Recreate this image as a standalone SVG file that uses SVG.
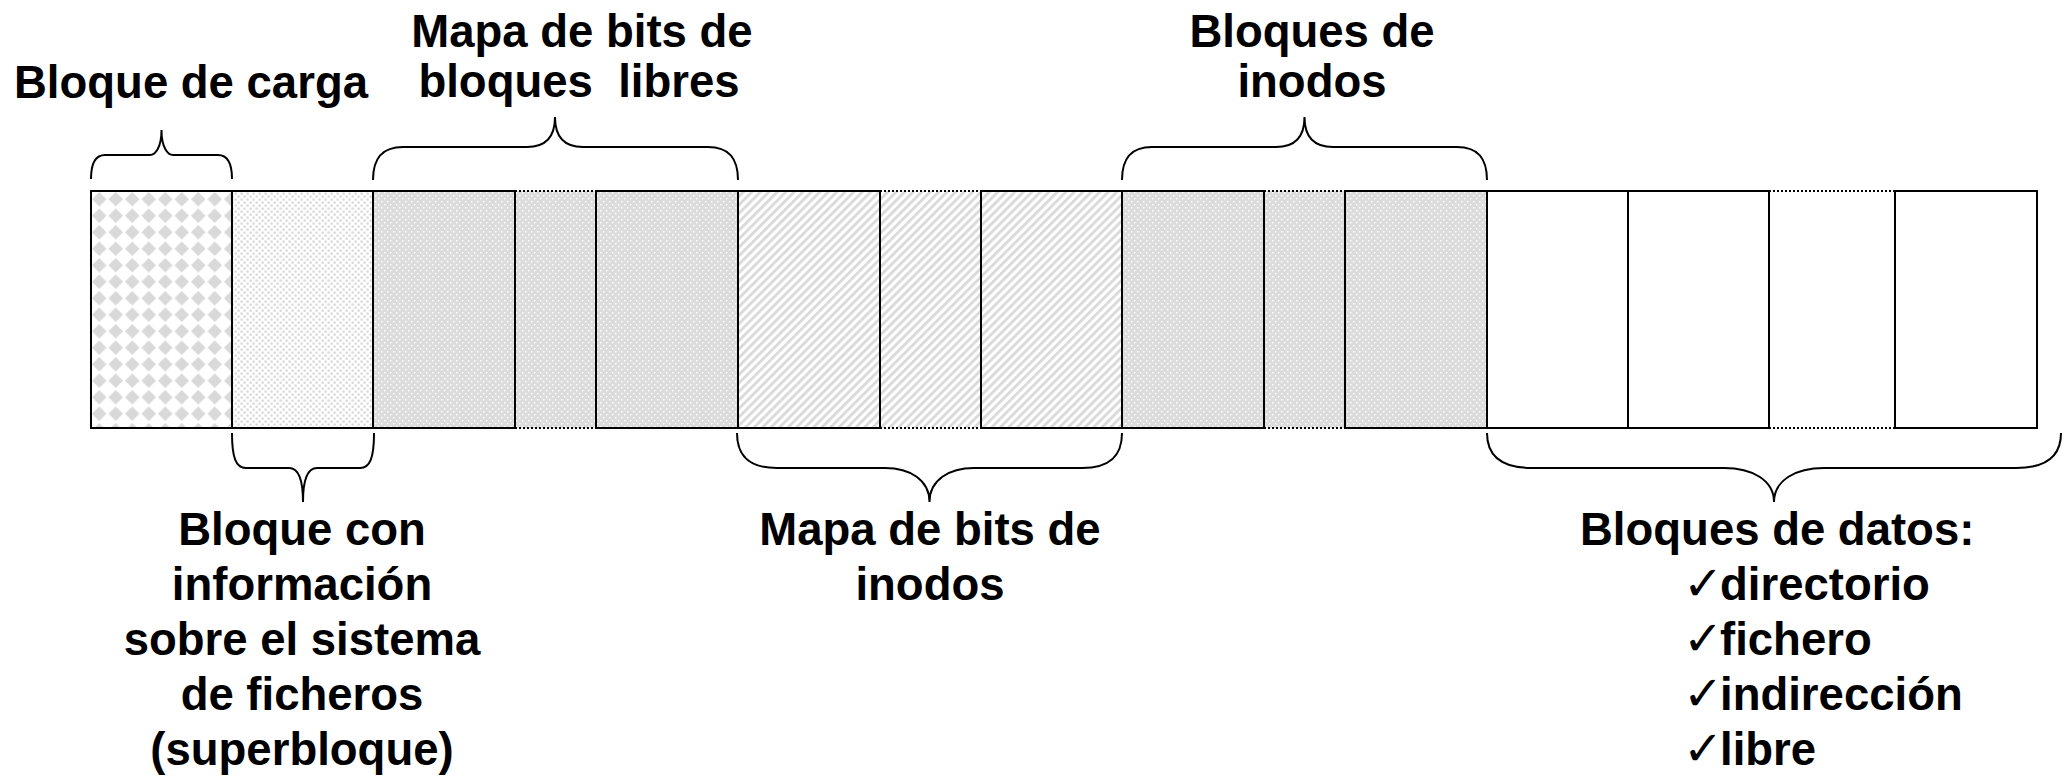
<svg xmlns="http://www.w3.org/2000/svg" width="2065" height="776" viewBox="0 0 2065 776">
<style>
.blk{stroke:#000;stroke-width:2}
.dotl{stroke:#000;stroke-width:2;stroke-dasharray:2 2;fill:none}
.brace{fill:none;stroke:#000;stroke-width:2}
.lbl{font-family:"Liberation Sans",Arial,sans-serif;font-weight:bold;font-size:45.5px;fill:#000}
.chk{font-family:"DejaVu Sans",sans-serif;font-weight:normal;font-size:48px}
</style>
<defs>
<pattern id="pDiamond" patternUnits="userSpaceOnUse" x="91" y="191" width="16.5" height="16.5">
<rect width="16.5" height="16.5" fill="#fff"/>
<polygon points="8.25,1 15.5,8.25 8.25,15.5 1,8.25" fill="#d9d9d9"/>
</pattern>
<pattern id="pSparse" patternUnits="userSpaceOnUse" width="6" height="6">
<rect width="6" height="6" fill="#fff"/>
<rect x="0.5" y="0.5" width="2.2" height="2.2" fill="#d6d6d6"/>
<rect x="3.5" y="3.5" width="2.2" height="2.2" fill="#d6d6d6"/>
</pattern>
<pattern id="pDots" patternUnits="userSpaceOnUse" width="6" height="6">
<rect width="6" height="6" fill="#dcdcdc"/>
<rect x="0" y="0" width="1.4" height="1.4" fill="#fff"/>
<rect x="3" y="3" width="1.4" height="1.4" fill="#fff"/>
</pattern>
<pattern id="pStripe" patternUnits="userSpaceOnUse" width="6" height="6" patternTransform="rotate(45)">
<rect width="6" height="6" fill="#fff"/>
<rect x="0" y="0" width="2.8" height="6" fill="#d9d9d9"/>
</pattern>
</defs>
<rect width="2065" height="776" fill="#fff"/>

<g id="disk">
<g id="gaps">
<rect x="515" y="191" width="81" height="237" fill="url(#pDots)"/>
<rect x="880" y="191" width="101" height="237" fill="url(#pStripe)"/>
<rect x="1264" y="191" width="81" height="237" fill="url(#pDots)"/>
<rect x="1769" y="191" width="126" height="237" fill="#fff"/>
<path class="dotl" d="M515,191H596M515,428H596M880,191H981M880,428H981M1264,191H1345M1264,428H1345M1769,191H1895M1769,428H1895"/>
</g>
<g id="boot-block"><rect class="blk" x="91" y="191" width="141" height="237" fill="url(#pDiamond)"/></g>
<g id="superblock"><rect class="blk" x="232" y="191" width="141" height="237" fill="url(#pSparse)"/></g>
<g id="free-bitmap">
<rect class="blk" x="373" y="191" width="142" height="237" fill="url(#pDots)"/>
<rect class="blk" x="596" y="191" width="142" height="237" fill="url(#pDots)"/>
</g>
<g id="inode-bitmap">
<rect class="blk" x="738" y="191" width="142" height="237" fill="url(#pStripe)"/>
<rect class="blk" x="981" y="191" width="141" height="237" fill="url(#pStripe)"/>
</g>
<g id="inode-blocks">
<rect class="blk" x="1122" y="191" width="142" height="237" fill="url(#pDots)"/>
<rect class="blk" x="1345" y="191" width="142" height="237" fill="url(#pDots)"/>
</g>
<g id="data-blocks">
<rect class="blk" x="1487" y="191" width="141" height="237" fill="#fff"/>
<rect class="blk" x="1628" y="191" width="141" height="237" fill="#fff"/>
<rect class="blk" x="1895" y="191" width="142" height="237" fill="#fff"/>
</g>
</g>

<g id="connectors">
<path class="brace" d="M91,179 C91,163 95,155 105,155 L150,155 C155,155 161.5,148 161.5,130 C161.5,148 168,155 173,155 L218,155 C228,155 232,163 232,179"/>
<path class="brace" d="M373,180 C373,158 382,147 403,147 L527,147 C545,147 555,138 555,117 C555,138 565,147 583,147 L708,147 C729,147 738,158 738,180"/>
<path class="brace" d="M1122,180 C1122,158 1131,147 1152,147 L1276,147 C1294,147 1304.5,138 1304.5,117 C1304.5,138 1315,147 1333,147 L1457,147 C1478,147 1487,158 1487,180"/>
<path class="brace" d="M232,433 C232,458 236,468 246,468 L289,468 C297,468 303,476 303,502 C303,476 309,468 317,468 L360,468 C370,468 374,458 374,433"/>
<path class="brace" d="M737,433 C737,455 748,468 777,468 L885,468 C910,468 929.5,480 929.5,502 C929.5,480 949,468 974,468 L1082,468 C1111,468 1122,455 1122,433"/>
<path class="brace" d="M1487,433 C1487,455 1500,468 1532,468 L1724,468 C1752,468 1774,480 1774,502 C1774,480 1796,468 1824,468 L2016,468 C2048,468 2061,455 2061,433"/>
</g>

<g id="label-boot">
<text class="lbl" x="191" y="98" text-anchor="middle">Bloque de carga</text>
</g>
<g id="label-free-bitmap">
<text class="lbl" x="582" y="47" text-anchor="middle">Mapa de bits de</text>
<text class="lbl" x="579" y="97" text-anchor="middle" xml:space="preserve">bloques  libres</text>
</g>
<g id="label-inodes">
<text class="lbl" x="1312" y="47" text-anchor="middle">Bloques de</text>
<text class="lbl" x="1312" y="97" text-anchor="middle">inodos</text>
</g>
<g id="label-superblock">
<text class="lbl" x="302" y="545" text-anchor="middle">Bloque con</text>
<text class="lbl" x="302" y="600" text-anchor="middle">información</text>
<text class="lbl" x="302" y="655" text-anchor="middle">sobre el sistema</text>
<text class="lbl" x="302" y="710" text-anchor="middle">de ficheros</text>
<text class="lbl" x="302" y="765" text-anchor="middle">(superbloque)</text>
</g>
<g id="label-inode-bitmap">
<text class="lbl" x="930" y="545" text-anchor="middle">Mapa de bits de</text>
<text class="lbl" x="930" y="600" text-anchor="middle">inodos</text>
</g>
<g id="label-data">
<text class="lbl" x="1580" y="545">Bloques de datos:</text>
<text class="lbl" y="600"><tspan class="chk" x="1683">✓</tspan><tspan x="1720">directorio</tspan></text>
<text class="lbl" y="655"><tspan class="chk" x="1683">✓</tspan><tspan x="1720">fichero</tspan></text>
<text class="lbl" y="710"><tspan class="chk" x="1683">✓</tspan><tspan x="1720">indirección</tspan></text>
<text class="lbl" y="765"><tspan class="chk" x="1683">✓</tspan><tspan x="1720">libre</tspan></text>
</g>
</svg>
